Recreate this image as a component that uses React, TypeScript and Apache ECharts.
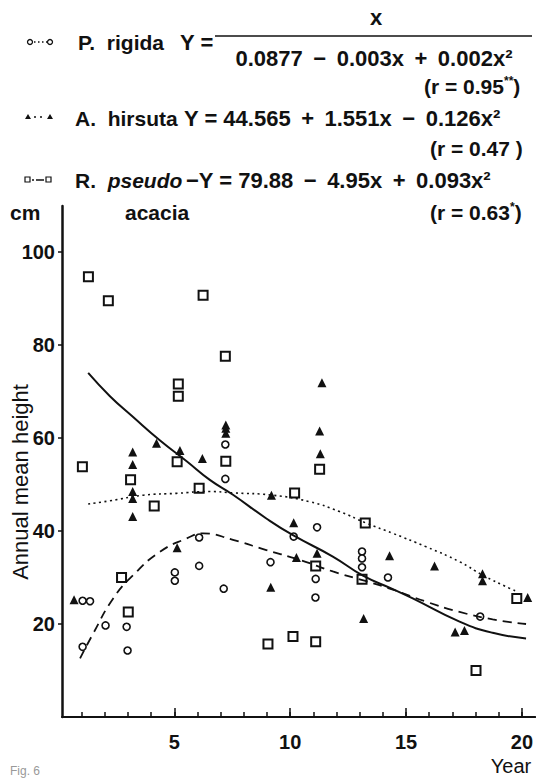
import React, { useEffect, useRef } from "react";
import * as echarts from "echarts";

// ---- Data ----
const rigidaPoints: number[][] = [
  [1.04, 25.0], [1.36, 24.9], [1.04, 15.1], [2.03, 19.7], [2.94, 19.4], [2.98, 14.3],
  [5.02, 31.1], [5.02, 29.3], [6.07, 38.6], [6.07, 32.5], [7.2, 58.6], [7.2, 51.2],
  [7.13, 27.6], [9.15, 33.3], [10.15, 38.8], [11.16, 40.8], [11.1, 29.7], [11.09, 25.7],
  [13.1, 35.6], [13.1, 34.1], [13.1, 32.2], [14.22, 30.0], [18.2, 21.6],
];
const hirsutaPoints: number[][] = [
  [0.67, 25.2], [3.2, 57.0], [3.2, 54.3], [3.2, 48.5], [3.2, 47.0], [3.2, 43.1],
  [4.23, 58.9], [5.24, 57.3], [5.12, 36.4], [6.21, 55.6], [7.22, 62.8], [7.22, 62.1],
  [7.22, 61.0], [9.19, 47.7], [9.16, 27.9], [10.15, 41.8], [10.27, 34.3], [11.37, 71.9],
  [11.27, 61.5], [11.3, 56.6], [11.16, 35.2], [13.17, 21.2], [14.29, 34.7], [16.23, 32.5],
  [17.12, 18.3], [17.52, 18.6], [18.3, 30.8], [18.3, 29.3], [20.25, 25.7],
];
const pseudoPoints: number[][] = [
  [1.29, 94.7], [2.15, 89.5], [6.24, 90.7], [5.17, 71.6], [5.17, 69.0], [7.2, 77.6],
  [1.03, 53.8], [5.12, 54.9], [3.11, 51.0], [6.07, 49.2], [7.22, 55.0], [4.13, 45.4],
  [2.72, 30.0], [3.01, 22.6], [11.27, 53.3], [10.19, 48.2], [13.24, 41.7], [11.1, 32.5],
  [13.1, 29.6], [9.04, 15.7], [10.12, 17.3], [11.1, 16.2], [18.02, 10.0], [19.78, 25.5],
];
// fitted curves as drawn in the figure
const dashedCurve: number[][] = [
  [0.93, 12.6], [1.5, 18.0], [2.36, 25.5], [3.22, 30.5], [4.37, 35.5], [5.53, 38.4],
  [6.24, 39.5], [7.53, 38.1], [8.97, 35.9], [10.41, 33.8], [11.84, 31.3], [13.28, 29.2],
  [14.43, 27.4], [15.87, 24.8], [17.31, 22.6], [18.74, 21.0], [20.18, 20.0],
];
const solidCurve: number[][] = [
  [1.28, 74.0], [2.22, 69.0], [3.22, 64.5], [4.37, 59.5], [5.53, 55.0], [6.53, 51.0],
  [7.53, 47.8], [8.97, 42.7], [10.12, 39.1], [11.84, 34.5], [13.14, 30.4], [14.43, 27.5],
  [15.29, 25.5], [17.31, 20.5], [18.74, 18.1], [20.18, 16.9],
];
const dottedCurve: number[][] = [
  [1.28, 45.8], [2.22, 46.5], [3.66, 47.7], [5.09, 48.1], [6.53, 48.5], [7.53, 48.2],
  [9.26, 47.7], [10.84, 46.3], [12.13, 44.2], [13.28, 41.7], [14.43, 39.5], [15.87, 36.6],
  [17.31, 33.4], [18.31, 30.5], [19.46, 27.7], [19.82, 26.9],
];
const xMinorTicks = [1, 2, 3, 4, 5, 6, 7, 8, 9, 10, 11, 12, 13, 14, 15, 16, 17, 18, 19, 20];
const xMajorTicks = [5, 10, 15, 20];
const yTicks = [20, 40, 60, 80, 100];

const SANS = "'Liberation Sans', Arial, Helvetica, sans-serif";
const INK = "#111";
const FS = 21;
const FE = 22;
const S = " \u2009"; // operator spacing

function txt(x: number, y: number, text: string, extra: any = {}) {
  return {
    type: "text",
    x,
    y,
    style: {
      text,
      fontFamily: SANS,
      fontSize: FS,
      fontWeight: "bold",
      fill: INK,
      textVerticalAlign: "middle",
      ...extra,
    },
  };
}

export default function App() {
  const ref = useRef<HTMLDivElement>(null);
  useEffect(() => {
    if (!ref.current) return;
    const chart = echarts.init(ref.current, null, { renderer: "svg" });
    const sup = { fontSize: 12, fontWeight: "bold", fontFamily: SANS, fill: INK, verticalAlign: "top", lineHeight: 22 };
    const nrm = { fontSize: FS, fontWeight: "bold", fontFamily: SANS, fill: INK, lineHeight: 22 };
    const xMin = 0.15;
    const xMax = 20.58;
    const tickFont = { fontFamily: SANS, fontWeight: "bold", fontSize: 20, color: INK };
    const option: any = {
      animation: false,
      backgroundColor: "#fff",
      grid: { left: 62, top: 206, width: 474, height: 511, containLabel: false },
      xAxis: [
        {
          type: "value",
          min: xMin,
          max: xMax,
          position: "bottom",
          axisLine: { show: true, onZero: false, lineStyle: { color: INK, width: 2 } },
          axisTick: { show: true, inside: true, length: 5, customValues: xMinorTicks, lineStyle: { color: INK, width: 1.5 } },
          axisLabel: { show: false },
          splitLine: { show: false },
        },
        {
          type: "value",
          min: xMin,
          max: xMax,
          position: "bottom",
          axisLine: { show: false, onZero: false },
          axisTick: { show: true, inside: true, length: 9, customValues: xMajorTicks, lineStyle: { color: INK, width: 1.5 } },
          axisLabel: { show: true, customValues: xMajorTicks, margin: 15, ...tickFont },
          splitLine: { show: false },
        },
      ],
      yAxis: {
        type: "value",
        min: 0,
        max: 109.9,
        axisLine: { show: true, onZero: false, lineStyle: { color: INK, width: 2.5 } },
        axisTick: { show: true, inside: false, length: 4, customValues: yTicks, lineStyle: { color: INK, width: 1.5 } },
        axisLabel: { show: true, customValues: yTicks, margin: 7, ...tickFont },
        splitLine: { show: false },
      },
      series: [
        {
          type: "line",
          data: dottedCurve,
          smooth: true,
          showSymbol: false,
          lineStyle: { color: INK, width: 1.6, type: [2, 3.5] },
        },
        {
          type: "line",
          data: dashedCurve,
          smooth: true,
          showSymbol: false,
          lineStyle: { color: INK, width: 1.8, type: [9, 6] },
        },
        {
          type: "line",
          data: solidCurve,
          smooth: true,
          showSymbol: false,
          lineStyle: { color: INK, width: 2 },
        },
        {
          type: "scatter",
          data: rigidaPoints,
          symbol: "circle",
          symbolSize: 7,
          itemStyle: { color: "#fff", borderColor: INK, borderWidth: 1.6, opacity: 1 },
        },
        {
          type: "scatter",
          data: pseudoPoints,
          symbol: "rect",
          symbolSize: 9,
          itemStyle: { color: "#fff", borderColor: INK, borderWidth: 2, opacity: 1 },
        },
        {
          type: "scatter",
          data: hirsutaPoints,
          symbol: "triangle",
          symbolSize: 9,
          itemStyle: { color: INK, opacity: 1 },
        },
      ],
      graphic: [
        // row 1: P. rigida
        { type: "circle", shape: { cx: 30, cy: 42, r: 2.5 }, style: { fill: "#fff", stroke: INK, lineWidth: 1.3 } },
        { type: "line", shape: { x1: 34, y1: 42, x2: 47, y2: 42 }, style: { stroke: INK, lineWidth: 1.3, lineDash: [1.5, 2.5] } },
        { type: "circle", shape: { cx: 50, cy: 42, r: 2.5 }, style: { fill: "#fff", stroke: INK, lineWidth: 1.3 } },
        txt(78, 42, "P.  rigida"),
        txt(180, 42, "Y =", { fontSize: FE }),
        txt(376, 17, "x", { textAlign: "center", fontSize: FE }),
        { type: "line", shape: { x1: 215, y1: 36, x2: 532, y2: 36 }, style: { stroke: INK, lineWidth: 1.5 } },
        txt(374, 58, `0.0877${S}−${S}0.003x${S}+${S}0.002x²`, { textAlign: "center", fontSize: FE }),
        {
          type: "text",
          x: 424,
          y: 86,
          style: {
            text: "{n|(r = 0.95}{s|**}{n|)}",
            rich: { n: nrm, s: sup },
            textVerticalAlign: "middle",
          },
        },
        // row 2: A. hirsuta
        { type: "polygon", shape: { points: [[28, 114], [31, 119], [25, 119]] }, style: { fill: INK } },
        { type: "line", shape: { x1: 34, y1: 117, x2: 46, y2: 117 }, style: { stroke: INK, lineWidth: 1.3, lineDash: [2, 4] } },
        { type: "polygon", shape: { points: [[50, 114], [53, 119], [47, 119]] }, style: { fill: INK } },
        txt(75, 118, "A.  hirsuta"),
        txt(184, 118, `Y = 44.565${S}+${S}1.551x${S}−${S}0.126x²`, { fontSize: FE }),
        {
          type: "text",
          x: 430,
          y: 148,
          style: { text: "{n|(r = 0.47 )}", rich: { n: nrm }, textVerticalAlign: "middle" },
        },
        // row 3: R. pseudoacacia
        { type: "rect", shape: { x: 25, y: 177, width: 5, height: 5 }, style: { fill: "#fff", stroke: INK, lineWidth: 1.2 } },
        { type: "line", shape: { x1: 32, y1: 180, x2: 45, y2: 180 }, style: { stroke: INK, lineWidth: 1.3, lineDash: [2, 2, 8, 2] } },
        { type: "rect", shape: { x: 46, y: 177, width: 5, height: 5 }, style: { fill: "#fff", stroke: INK, lineWidth: 1.2 } },
        {
          type: "text",
          x: 75,
          y: 180,
          style: {
            text: "{n|R.  }{i|pseudo}",
            rich: { n: nrm, i: { ...nrm, fontStyle: "italic" } },
            textVerticalAlign: "middle",
          },
        },
        txt(186, 180, `−Y = 79.88${S}−${S}4.95x${S}+${S}0.093x²`, { fontSize: FE }),
        txt(10, 212, "cm"),
        txt(125, 212, "acacia"),
        {
          type: "text",
          x: 430,
          y: 212,
          style: {
            text: "{n|(r = 0.63}{s|*}{n|)}",
            rich: { n: nrm, s: sup },
            textVerticalAlign: "middle",
          },
        },
        // axis titles
        {
          type: "text",
          x: 20,
          y: 482,
          rotation: Math.PI / 2,
          style: {
            text: "Annual mean height",
            fontFamily: SANS,
            fontSize: 22,
            fill: INK,
            textAlign: "center",
            textVerticalAlign: "middle",
          },
        },
        txt(511, 766, "Year", { fontSize: 20, fontWeight: "normal", textAlign: "center" }),
        txt(10, 777, "Fig. 6", { fontSize: 12, fontWeight: "normal", fill: "#999", textVerticalAlign: "bottom" }),
      ],
    };
    chart.setOption(option);
    return () => chart.dispose();
  }, []);
  return (
    <div
      ref={ref}
      style={{ position: "absolute", left: 0, top: 0, width: 536, height: 778, background: "#fff" }}
    />
  );
}
